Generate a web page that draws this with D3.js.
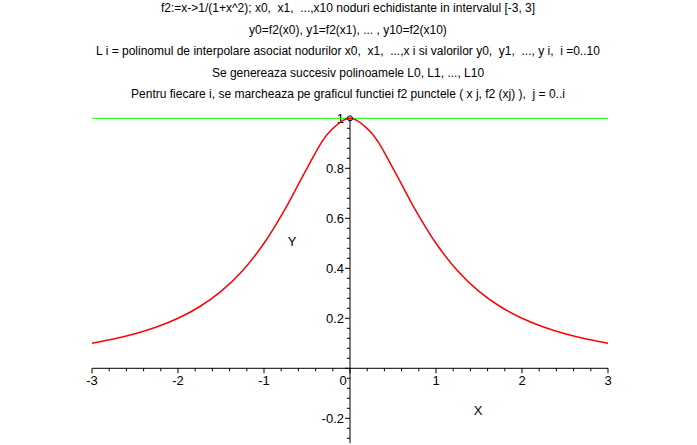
<!DOCTYPE html>
<html><head><meta charset="utf-8">
<script src="https://cdn.jsdelivr.net/npm/d3@7"></script>
<style>body{margin:0;background:#fff}svg{display:block}text{font-family:"Liberation Sans",Arial,sans-serif;white-space:pre}</style>
</head><body><svg id="c" width="697" height="445"></svg>
<script>
const titles = [
  "f2:=x->1/(1+x^2); x0,  x1,  ...,x10 noduri echidistante in intervalul [-3, 3]",
  "y0=f2(x0), y1=f2(x1), ... , y10=f2(x10)",
  "L i = polinomul de interpolare asociat nodurilor x0,  x1,  ...,x i si valorilor y0,  y1,  ..., y i,  i =0..10",
  "Se genereaza succesiv polinoamele L0, L1, ..., L10",
  "Pentru fiecare i, se marcheaza pe graficul functiei f2 punctele ( x j, f2 (xj) ),  j = 0..i"
];
const curveX = [-3,-2.75,-2.5,-2.25,-2,-1.75,-1.5,-1.25,-1,-0.75,-0.5,-0.25,0,0.25,0.5,0.75,1,1.25,1.5,1.75,2,2.25,2.5,2.75,3];
const curveY = [0.1,0.1168,0.1379,0.1649,0.2,0.2462,0.3077,0.3902,0.5,0.64,0.8,0.9412,1,0.9412,0.8,0.64,0.5,0.3902,0.3077,0.2462,0.2,0.1649,0.1379,0.1168,0.1];
const lineX = [-3, 3];
const lineY = [1, 1];
const pointX = [0];
const pointY = [1];
const xTicks = [-3,-2,-1,0,1,2,3];
const yTicks = [-0.2,0.2,0.4,0.6,0.8,1];

const svg = d3.select("#c");
const x = d3.scaleLinear().domain([-3,3]).range([92,608]);
const y = d3.scaleLinear().domain([0,1]).range([368.3,118.3]);

svg.selectAll("text.title").data(titles).enter().append("text")
  .attr("x",348).attr("y",(d,i)=>12+i*21.5).attr("text-anchor","middle")
  .attr("xml:space","preserve")
  .attr("font-size",12).attr("fill","#000").text(d=>d);

// x axis
const gx = svg.append("g").attr("transform",`translate(0,${y(0)})`);
gx.append("line").attr("x1",x(-3)).attr("x2",x(3)).attr("stroke","#000");
const xMinor = d3.range(-30,31,2).map(v=>v/10);
gx.selectAll("line.mn").data(xMinor).enter().append("line")
  .attr("x1",d=>x(d)).attr("x2",d=>x(d)).attr("y1",0).attr("y2",d=>Math.abs(d-Math.round(d))<1e-9?5:3).attr("stroke","#000");
gx.selectAll("text").data(xTicks).enter().append("text")
  .attr("x",d=>d===0?x(d)-7:x(d)).attr("y",17).attr("text-anchor","middle")
  .attr("font-size",13).text(d=>d);
svg.append("text").attr("x",478).attr("y",415).attr("text-anchor","middle").attr("font-size",13).text("X");

// y axis
const gy = svg.append("g").attr("transform",`translate(${x(0)},0)`);
gy.append("line").attr("y1",y(1)).attr("y2",y(-0.3)).attr("stroke","#000");
const yMinor = d3.range(-7,26,1).map(v=>v*0.04);
gy.selectAll("line.mn").data(yMinor).enter().append("line")
  .attr("y1",d=>y(d)).attr("y2",d=>y(d)).attr("x1",d=>Math.abs(d*5-Math.round(d*5))<1e-6?-5:-3).attr("x2",0).attr("stroke","#000");
gy.selectAll("text").data(yTicks).enter().append("text")
  .attr("x",-6).attr("y",d=>y(d)+5).attr("text-anchor","end")
  .attr("font-size",13).text(d=>d);
svg.append("text").attr("x",292).attr("y",246).attr("text-anchor","middle").attr("font-size",13).text("Y");

// green line
svg.append("path").datum(lineX.map((v,i)=>[v,lineY[i]]))
  .attr("d",d3.line().x(d=>x(d[0])).y(d=>y(d[1])))
  .attr("stroke","#00ff00").attr("fill","none").attr("stroke-width",1);

// red curve
svg.append("path").datum(curveX.map((v,i)=>[v,curveY[i]]))
  .attr("d",d3.line().x(d=>x(d[0])).y(d=>y(d[1])).curve(d3.curveCatmullRom))
  .attr("stroke","#ff0000").attr("fill","none").attr("stroke-width",1.5);

// point
svg.selectAll("circle").data(pointX).enter().append("circle")
  .attr("cx",d=>x(d)).attr("cy",(d,i)=>y(pointY[i])).attr("r",2.5)
  .attr("fill","none").attr("stroke","#000");
</script></body></html>
